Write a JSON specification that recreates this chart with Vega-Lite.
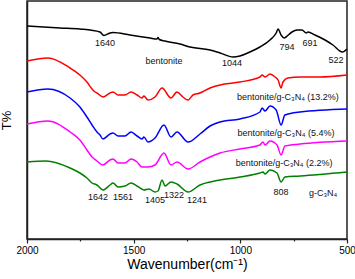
{
  "$schema": "https://vega.github.io/schema/vega-lite/v6.json",
  "width": 320,
  "height": 238,
  "autosize": {"type": "none"},
  "padding": {"left": 27, "top": 1, "right": 8, "bottom": 40},
  "config": {
    "font": "Liberation Sans",
    "view": {"stroke": "#222", "strokeWidth": 1.5},
    "axis": {"domainColor": "#222", "domainWidth": 1.5, "tickColor": "#222", "grid": false}
  },
  "datasets": {
    "spectra": [
      {"s": "bentonite", "w": 2000, "t": 213}, {"s": "bentonite", "w": 1845, "t": 211}, {"s": "bentonite", "w": 1752, "t": 210}, {"s": "bentonite", "w": 1658, "t": 207}, {"s": "bentonite", "w": 1640, "t": 203.5}, {"s": "bentonite", "w": 1611, "t": 206}, {"s": "bentonite", "w": 1597, "t": 206.5}, {"s": "bentonite", "w": 1517, "t": 204}, {"s": "bentonite", "w": 1423, "t": 201}, {"s": "bentonite", "w": 1391, "t": 200}, {"s": "bentonite", "w": 1386, "t": 201.5}, {"s": "bentonite", "w": 1380, "t": 199.5}, {"s": "bentonite", "w": 1353, "t": 198}, {"s": "bentonite", "w": 1283, "t": 195}, {"s": "bentonite", "w": 1236, "t": 192}, {"s": "bentonite", "w": 1142, "t": 189}, {"s": "bentonite", "w": 1095, "t": 186}, {"s": "bentonite", "w": 1034, "t": 182}, {"s": "bentonite", "w": 1002, "t": 183}, {"s": "bentonite", "w": 955, "t": 187}, {"s": "bentonite", "w": 908, "t": 192}, {"s": "bentonite", "w": 861, "t": 199}, {"s": "bentonite", "w": 832, "t": 206}, {"s": "bentonite", "w": 823, "t": 210}, {"s": "bentonite", "w": 809, "t": 204}, {"s": "bentonite", "w": 794, "t": 201}, {"s": "bentonite", "w": 786, "t": 202}, {"s": "bentonite", "w": 758, "t": 207}, {"s": "bentonite", "w": 734, "t": 209}, {"s": "bentonite", "w": 711, "t": 209}, {"s": "bentonite", "w": 691, "t": 206}, {"s": "bentonite", "w": 683, "t": 207}, {"s": "bentonite", "w": 650, "t": 204}, {"s": "bentonite", "w": 603, "t": 199}, {"s": "bentonite", "w": 566, "t": 194}, {"s": "bentonite", "w": 522, "t": 187}, {"s": "bentonite", "w": 500, "t": 190},

      {"s": "13.2", "w": 2000, "t": 178}, {"s": "13.2", "w": 1902, "t": 181}, {"s": "13.2", "w": 1798, "t": 171}, {"s": "13.2", "w": 1752, "t": 164}, {"s": "13.2", "w": 1719, "t": 157}, {"s": "13.2", "w": 1695, "t": 150}, {"s": "13.2", "w": 1681, "t": 147}, {"s": "13.2", "w": 1672, "t": 146}, {"s": "13.2", "w": 1644, "t": 142}, {"s": "13.2", "w": 1611, "t": 146}, {"s": "13.2", "w": 1597, "t": 147}, {"s": "13.2", "w": 1573, "t": 144}, {"s": "13.2", "w": 1541, "t": 144}, {"s": "13.2", "w": 1512, "t": 147}, {"s": "13.2", "w": 1484, "t": 144}, {"s": "13.2", "w": 1461, "t": 141}, {"s": "13.2", "w": 1452, "t": 143}, {"s": "13.2", "w": 1433, "t": 139}, {"s": "13.2", "w": 1400, "t": 142}, {"s": "13.2", "w": 1367, "t": 151}, {"s": "13.2", "w": 1325, "t": 141}, {"s": "13.2", "w": 1297, "t": 147}, {"s": "13.2", "w": 1269, "t": 142}, {"s": "13.2", "w": 1245, "t": 139}, {"s": "13.2", "w": 1222, "t": 144}, {"s": "13.2", "w": 1189, "t": 146}, {"s": "13.2", "w": 1142, "t": 151}, {"s": "13.2", "w": 1095, "t": 154}, {"s": "13.2", "w": 1002, "t": 157}, {"s": "13.2", "w": 908, "t": 162}, {"s": "13.2", "w": 898, "t": 164}, {"s": "13.2", "w": 884, "t": 162}, {"s": "13.2", "w": 861, "t": 165}, {"s": "13.2", "w": 837, "t": 162}, {"s": "13.2", "w": 823, "t": 159}, {"s": "13.2", "w": 809, "t": 151}, {"s": "13.2", "w": 800, "t": 157}, {"s": "13.2", "w": 777, "t": 161}, {"s": "13.2", "w": 720, "t": 162}, {"s": "13.2", "w": 627, "t": 162}, {"s": "13.2", "w": 500, "t": 164},

      {"s": "5.4", "w": 2000, "t": 147}, {"s": "5.4", "w": 1902, "t": 150}, {"s": "5.4", "w": 1798, "t": 141}, {"s": "5.4", "w": 1752, "t": 132}, {"s": "5.4", "w": 1719, "t": 122}, {"s": "5.4", "w": 1695, "t": 114}, {"s": "5.4", "w": 1672, "t": 107}, {"s": "5.4", "w": 1658, "t": 104}, {"s": "5.4", "w": 1644, "t": 100}, {"s": "5.4", "w": 1611, "t": 105}, {"s": "5.4", "w": 1597, "t": 106}, {"s": "5.4", "w": 1573, "t": 103}, {"s": "5.4", "w": 1541, "t": 103}, {"s": "5.4", "w": 1512, "t": 107}, {"s": "5.4", "w": 1484, "t": 103}, {"s": "5.4", "w": 1461, "t": 100}, {"s": "5.4", "w": 1452, "t": 102}, {"s": "5.4", "w": 1433, "t": 97}, {"s": "5.4", "w": 1400, "t": 101}, {"s": "5.4", "w": 1358, "t": 114}, {"s": "5.4", "w": 1325, "t": 102}, {"s": "5.4", "w": 1297, "t": 107}, {"s": "5.4", "w": 1245, "t": 97}, {"s": "5.4", "w": 1189, "t": 105}, {"s": "5.4", "w": 1142, "t": 113}, {"s": "5.4", "w": 1095, "t": 117}, {"s": "5.4", "w": 1002, "t": 120}, {"s": "5.4", "w": 908, "t": 127}, {"s": "5.4", "w": 898, "t": 131}, {"s": "5.4", "w": 884, "t": 128}, {"s": "5.4", "w": 861, "t": 133}, {"s": "5.4", "w": 832, "t": 129}, {"s": "5.4", "w": 809, "t": 114}, {"s": "5.4", "w": 791, "t": 124}, {"s": "5.4", "w": 720, "t": 127}, {"s": "5.4", "w": 500, "t": 130},

      {"s": "2.2", "w": 2000, "t": 115}, {"s": "2.2", "w": 1902, "t": 118}, {"s": "2.2", "w": 1798, "t": 107}, {"s": "2.2", "w": 1752, "t": 99}, {"s": "2.2", "w": 1719, "t": 89}, {"s": "2.2", "w": 1695, "t": 82}, {"s": "2.2", "w": 1672, "t": 78}, {"s": "2.2", "w": 1644, "t": 74}, {"s": "2.2", "w": 1611, "t": 79}, {"s": "2.2", "w": 1597, "t": 80}, {"s": "2.2", "w": 1573, "t": 76}, {"s": "2.2", "w": 1541, "t": 76}, {"s": "2.2", "w": 1512, "t": 80}, {"s": "2.2", "w": 1484, "t": 77}, {"s": "2.2", "w": 1461, "t": 72}, {"s": "2.2", "w": 1433, "t": 72}, {"s": "2.2", "w": 1400, "t": 74}, {"s": "2.2", "w": 1358, "t": 86}, {"s": "2.2", "w": 1325, "t": 74}, {"s": "2.2", "w": 1297, "t": 77}, {"s": "2.2", "w": 1245, "t": 70}, {"s": "2.2", "w": 1189, "t": 77}, {"s": "2.2", "w": 1142, "t": 82}, {"s": "2.2", "w": 1095, "t": 86}, {"s": "2.2", "w": 1002, "t": 90}, {"s": "2.2", "w": 908, "t": 94}, {"s": "2.2", "w": 894, "t": 97}, {"s": "2.2", "w": 884, "t": 94}, {"s": "2.2", "w": 861, "t": 98}, {"s": "2.2", "w": 828, "t": 94}, {"s": "2.2", "w": 809, "t": 84}, {"s": "2.2", "w": 791, "t": 93}, {"s": "2.2", "w": 720, "t": 95}, {"s": "2.2", "w": 500, "t": 98},

      {"s": "gCN", "w": 2000, "t": 77}, {"s": "gCN", "w": 1911, "t": 78}, {"s": "gCN", "w": 1798, "t": 71}, {"s": "gCN", "w": 1752, "t": 66}, {"s": "gCN", "w": 1719, "t": 61}, {"s": "gCN", "w": 1695, "t": 56}, {"s": "gCN", "w": 1672, "t": 54}, {"s": "gCN", "w": 1644, "t": 49}, {"s": "gCN", "w": 1611, "t": 54}, {"s": "gCN", "w": 1597, "t": 56}, {"s": "gCN", "w": 1573, "t": 52}, {"s": "gCN", "w": 1541, "t": 53}, {"s": "gCN", "w": 1512, "t": 56}, {"s": "gCN", "w": 1484, "t": 53}, {"s": "gCN", "w": 1452, "t": 49}, {"s": "gCN", "w": 1428, "t": 50}, {"s": "gCN", "w": 1400, "t": 47}, {"s": "gCN", "w": 1386, "t": 48}, {"s": "gCN", "w": 1367, "t": 59}, {"s": "gCN", "w": 1353, "t": 53}, {"s": "gCN", "w": 1325, "t": 57}, {"s": "gCN", "w": 1297, "t": 55}, {"s": "gCN", "w": 1245, "t": 47}, {"s": "gCN", "w": 1189, "t": 54}, {"s": "gCN", "w": 1142, "t": 57}, {"s": "gCN", "w": 1095, "t": 59}, {"s": "gCN", "w": 1002, "t": 62}, {"s": "gCN", "w": 908, "t": 66}, {"s": "gCN", "w": 894, "t": 67}, {"s": "gCN", "w": 884, "t": 65}, {"s": "gCN", "w": 861, "t": 69}, {"s": "gCN", "w": 828, "t": 66}, {"s": "gCN", "w": 809, "t": 57}, {"s": "gCN", "w": 791, "t": 62}, {"s": "gCN", "w": 720, "t": 63}, {"s": "gCN", "w": 500, "t": 67}
    ],
    "labels": [
      {"label": "1640", "w": 1634, "t": 196},
      {"label": "bentonite", "w": 1358, "t": 178},
      {"label": "1044", "w": 1039, "t": 176},
      {"label": "794", "w": 781, "t": 192},
      {"label": "691", "w": 673, "t": 196},
      {"label": "522", "w": 552, "t": 179},
      {"label": "bentonite/g-C₃N₄ (13.2%)", "w": 777, "t": 142},
      {"label": "bentonite/g-C₃N₄ (5.4%)", "w": 786, "t": 106},
      {"label": "bentonite/g-C₃N₄ (2.2%)", "w": 795, "t": 76},
      {"label": "g-C₃N₄", "w": 612, "t": 46},
      {"label": "808", "w": 809, "t": 47},
      {"label": "1642", "w": 1667, "t": 42},
      {"label": "1561", "w": 1550, "t": 42},
      {"label": "1405", "w": 1400, "t": 39},
      {"label": "1322", "w": 1311, "t": 44},
      {"label": "1241", "w": 1203, "t": 39}
    ]
  },
  "layer": [
    {
      "data": {"name": "spectra"},
      "mark": {"type": "line", "strokeWidth": 1.5, "interpolate": "monotone"},
      "encoding": {
        "x": {
          "field": "w", "type": "quantitative",
          "scale": {"domain": [500, 2000], "reverse": true, "nice": false, "zero": false},
          "axis": {
            "title": "Wavenumber(cm⁻¹)", "titleFontSize": 14, "titleFontWeight": "normal", "titleColor": "#000", "titlePadding": 2,
            "values": [2000, 1750, 1500, 1250, 1000, 750, 500],
            "format": "d",
            "labelExpr": "datum.value % 500 === 0 ? datum.label : ''",
            "labelFontSize": 10, "labelColor": "#000", "labelPadding": 2, "labelFlush": false,
            "tickSize": {"condition": {"test": "datum.value % 500 === 0", "value": 4}, "value": 2},
            "tickWidth": 1.2
          }
        },
        "y": {
          "field": "t", "type": "quantitative",
          "scale": {"domain": [0, 238], "nice": false, "zero": false},
          "axis": {"title": "T%", "titleFontSize": 13, "titleFontWeight": "normal", "titleColor": "#000", "labels": false, "ticks": false, "titlePadding": 14}
        },
        "color": {
          "field": "s", "type": "nominal", "legend": null,
          "scale": {"domain": ["bentonite", "13.2", "5.4", "2.2", "gCN"], "range": ["#000000", "#ff0000", "#0000ff", "#ff00ff", "#008000"]}
        },
        "detail": {"field": "s"}
      }
    },
    {
      "data": {"name": "labels"},
      "mark": {"type": "text", "fontSize": 9, "color": "#111", "baseline": "middle", "align": "center"},
      "encoding": {
        "x": {"field": "w", "type": "quantitative"},
        "y": {"field": "t", "type": "quantitative"},
        "text": {"field": "label"}
      }
    }
  ]
}
